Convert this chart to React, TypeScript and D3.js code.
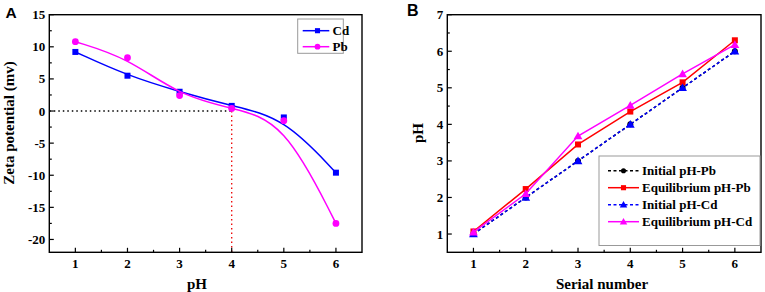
import React from "react";
import * as d3 from "d3";

const phA = [1, 2, 3, 4, 5, 6];
const zetaCd = [9.2, 5.5, 3.0, 0.8, -1.0, -9.6];
const zetaPb = [10.8, 8.3, 2.4, 0.4, -1.5, -17.5];
const yTicksA = [-20, -15, -10, -5, 0, 5, 10, 15];
const xTicks = [1, 2, 3, 4, 5, 6];

const serial = [1, 2, 3, 4, 5, 6];
const initPb = [1, 2, 3, 4, 5, 6];
const eqPb = [1.07, 2.23, 3.45, 4.35, 5.15, 6.3];
const initCd = [1, 2, 3, 4, 5, 6];
const eqCd = [1.05, 2.1, 3.68, 4.52, 5.38, 6.18];
const yTicksB = [1, 2, 3, 4, 5, 6, 7];

const SERIF = "'Liberation Serif', 'Times New Roman', serif";
const SANS = "'Liberation Sans', Arial, sans-serif";

type Marker = "square" | "circle" | "triangle" | "dot";

function MarkerShape({ type, x, y, color, s = 1 }: { type: Marker; x: number; y: number; color: string; s?: number }) {
  if (type === "square") return <rect x={x - 3 * s} y={y - 3 * s} width={6 * s} height={6 * s} fill={color} />;
  if (type === "circle") return <circle cx={x} cy={y} r={3.4 * s} fill={color} />;
  if (type === "dot") return <circle cx={x} cy={y} r={3 * s} fill={color} />;
  const h = 4.4 * s;
  return <path d={`M${x},${y - h}L${x + h},${y + h * 0.75}L${x - h},${y + h * 0.75}Z`} fill={color} />;
}

function Frame({ x, y, xMinor, yMinor, xTickVals, yTickVals, xFmt }: any) {
  const [x0, x1] = x.range();
  const [y0, y1] = y.range();
  return (
    <g>
      <rect x={x0} y={y1} width={x1 - x0} height={y0 - y1} fill="none" stroke="#000" strokeWidth={1.4} />
      {xTickVals.map((t: number) => (
        <g key={"xt" + t}>
          <line x1={x(t)} x2={x(t)} y1={y0} y2={y0 - 4.5} stroke="#000" strokeWidth={1.2} />
          <text x={x(t)} y={y0 + 16} textAnchor="middle" fontFamily={SERIF} fontWeight="bold" fontSize={13}>{t}</text>
        </g>
      ))}
      {xMinor.map((t: number) => (
        <line key={"xm" + t} x1={x(t)} x2={x(t)} y1={y0} y2={y0 - 2.5} stroke="#000" strokeWidth={1.2} />
      ))}
      {yTickVals.map((t: number) => (
        <g key={"yt" + t}>
          <line x1={x0} x2={x0 + 4.5} y1={y(t)} y2={y(t)} stroke="#000" strokeWidth={1.2} />
          <text x={x0 - 4} y={y(t) + 4.5} textAnchor="end" fontFamily={SERIF} fontWeight="bold" fontSize={13}>{xFmt ? xFmt(t) : t}</text>
        </g>
      ))}
      {yMinor.map((t: number) => (
        <line key={"ym" + t} x1={x0} x2={x0 + 2.5} y1={y(t)} y2={y(t)} stroke="#000" strokeWidth={1.2} />
      ))}
    </g>
  );
}

function PanelA() {
  const x = d3.scaleLinear().domain([0.5, 6.5]).range([49.3, 362]);
  const y = d3.scaleLinear().domain([-22, 15]).range([252.3, 14.7]);
  const xMinor = d3.range(1.5, 6.5, 1);
  const yMinor = d3.range(-17.5, 15, 5);
  const line = d3.line<number>().x((_, i) => x(phA[i])).y((d) => y(d)).curve(d3.curveBasis);
  const fmt = (t: number) => (t < 0 ? "-" + Math.abs(t) : String(t));
  const series = [
    { name: "Cd", vals: zetaCd, color: "#0000ff", marker: "square" as Marker },
    { name: "Pb", vals: zetaPb, color: "#ff00ff", marker: "circle" as Marker },
  ];
  return (
    <g>
      <text x={5.5} y={17.5} fontFamily={SANS} fontWeight="bold" fontSize={15.5}>A</text>
      <line x1={x(0.5)} x2={x(4)} y1={y(0)} y2={y(0)} stroke="#000" strokeWidth={1.3} strokeDasharray="1.5,3" />
      <line x1={x(4)} x2={x(4)} y1={y(0)} y2={y(-22)} stroke="#ee0000" strokeWidth={1.3} strokeDasharray="1.5,3" />
      {series.map((s) => (
        <g key={s.name}>
          <path d={line(s.vals) || ""} fill="none" stroke={s.color} strokeWidth={1.5} />
          {s.vals.map((v, i) => (
            <MarkerShape key={i} type={s.marker} x={x(phA[i])} y={y(v)} color={s.color} />
          ))}
        </g>
      ))}
      <Frame x={x} y={y} xMinor={xMinor} yMinor={yMinor} xTickVals={xTicks} yTickVals={yTicksA} xFmt={fmt} />
      <text x={197} y={289} textAnchor="middle" fontFamily={SERIF} fontWeight="bold" fontSize={15}>pH</text>
      <text transform={`translate(14,123) rotate(-90)`} textAnchor="middle" fontFamily={SERIF} fontWeight="bold" fontSize={15}>Zeta potential (mv)</text>
      <rect x={297.7} y={19} width={45.6} height={34.3} fill="#fff" stroke="#999" strokeWidth={1} />
      {series.map((s, i) => {
        const ly = 30.7 + i * 16;
        return (
          <g key={"lg" + s.name}>
            <line x1={302.7} x2={329.3} y1={ly} y2={ly} stroke={s.color} strokeWidth={1.5} />
            <MarkerShape type={s.marker} x={317.5} y={ly} color={s.color} s={0.85} />
            <text x={332.5} y={ly + 4.5} fontFamily={SERIF} fontWeight="bold" fontSize={13}>{s.name}</text>
          </g>
        );
      })}
    </g>
  );
}

function PanelB() {
  const x = d3.scaleLinear().domain([0.5, 6.5]).range([447.3, 761]);
  const y = d3.scaleLinear().domain([0.5, 7]).range([252.3, 14.7]);
  const xMinor = d3.range(1.5, 6.5, 1);
  const yMinor = d3.range(1.5, 7, 1);
  const line = d3.line<number>().x((_, i) => x(serial[i])).y((d) => y(d));
  const series = [
    { name: "Initial pH-Pb", vals: initPb, color: "#000000", marker: "dot" as Marker, dash: "3,2.5" },
    { name: "Equilibrium pH-Pb", vals: eqPb, color: "#ff0000", marker: "square" as Marker, dash: "" },
    { name: "Initial pH-Cd", vals: initCd, color: "#0000ff", marker: "triangle" as Marker, dash: "3,2.5" },
    { name: "Equilibrium pH-Cd", vals: eqCd, color: "#ff00ff", marker: "triangle" as Marker, dash: "" },
  ];
  return (
    <g>
      <text x={407} y={15.7} fontFamily={SANS} fontWeight="bold" fontSize={16}>B</text>
      {series.map((s) => (
        <g key={s.name}>
          <path d={line(s.vals) || ""} fill="none" stroke={s.color} strokeWidth={1.5} strokeDasharray={s.dash || undefined} />
          {s.vals.map((v, i) => (
            <MarkerShape key={i} type={s.marker} x={x(serial[i])} y={y(v)} color={s.color} />
          ))}
        </g>
      ))}
      <Frame x={x} y={y} xMinor={xMinor} yMinor={yMinor} xTickVals={xTicks} yTickVals={yTicksB} />
      <text x={602} y={289} textAnchor="middle" fontFamily={SERIF} fontWeight="bold" fontSize={15}>Serial number</text>
      <text transform={`translate(423,133) rotate(-90)`} textAnchor="middle" fontFamily={SERIF} fontWeight="bold" fontSize={15}>pH</text>
      <rect x={599} y={156} width={161} height={89.5} fill="#fff" stroke="#999" strokeWidth={1} />
      {series.map((s, i) => {
        const ly = 170.7 + i * 17;
        return (
          <g key={"lg" + s.name}>
            <line x1={608} x2={639} y1={ly} y2={ly} stroke={s.color} strokeWidth={1.5} strokeDasharray={s.dash || undefined} />
            <MarkerShape type={s.marker} x={623.5} y={ly} color={s.color} s={0.85} />
            <text x={642} y={ly + 4.5} fontFamily={SERIF} fontWeight="bold" fontSize={13}>{s.name}</text>
          </g>
        );
      })}
    </g>
  );
}

export default function App() {
  return (
    <svg width={765} height={292} style={{ position: "absolute", left: 0, top: 0, background: "#fff" }}>
      <rect width={765} height={292} fill="#fff" />
      <PanelA />
      <PanelB />
    </svg>
  );
}
